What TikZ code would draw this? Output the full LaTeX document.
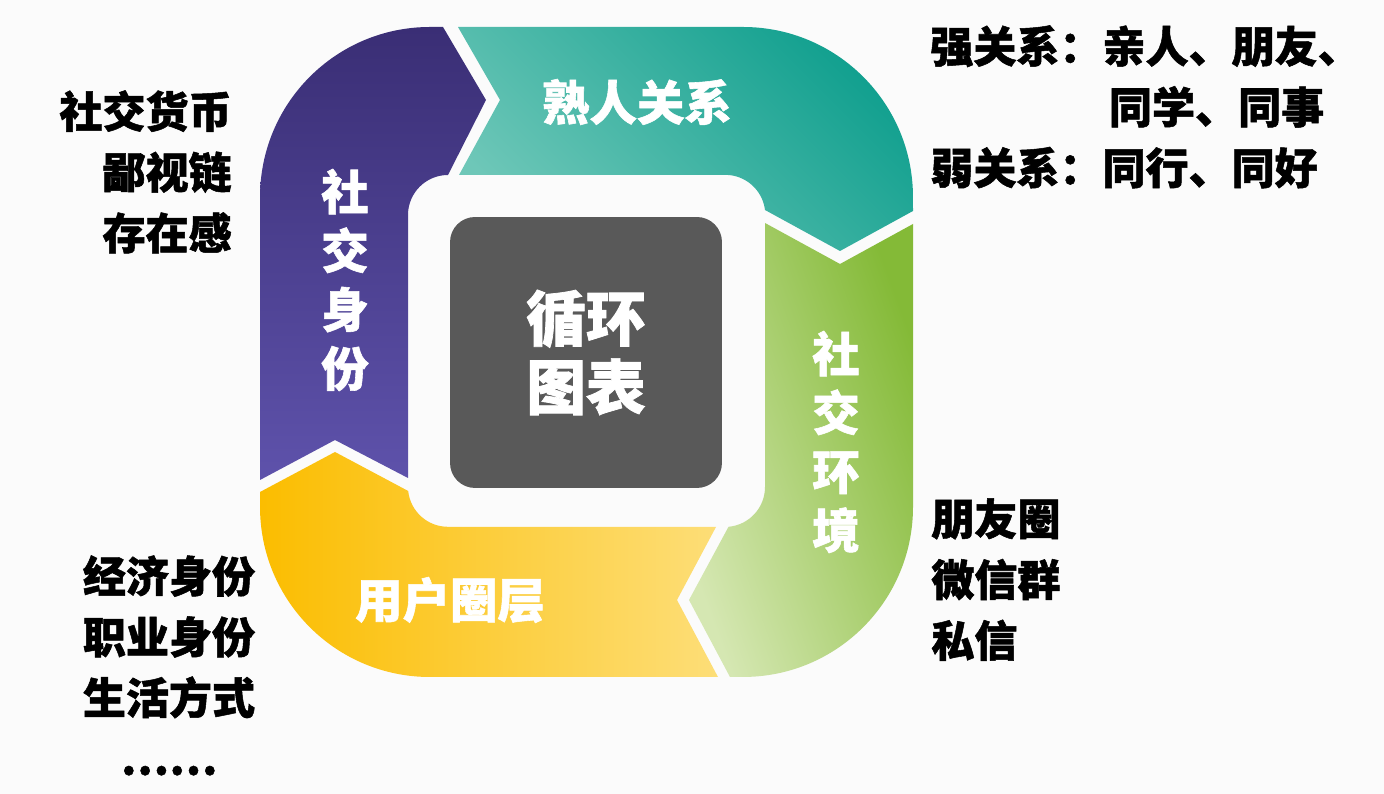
\documentclass[tikz,border=0pt]{standalone}
\usepackage{fontspec}
\setmainfont{Noto Sans CJK SC}[BoldFeatures={FakeBold=1.2}]
\usepackage{tikz}
\usepackage{xcolor}

\definecolor{paper}{HTML}{FBFBFB}
\definecolor{purpleD}{HTML}{3A2E75}
\definecolor{purpleL}{HTML}{5E52AB}
\definecolor{tealD}{HTML}{12A08F}
\definecolor{tealL}{HTML}{6EC7B8}
\definecolor{greenD}{HTML}{84BA37}
\definecolor{greenL}{HTML}{D5E7B2}
\definecolor{yellowD}{HTML}{FBBD00}
\definecolor{yellowL}{HTML}{FDDE78}
\definecolor{coregray}{HTML}{595959}

\begin{document}
\begin{tikzpicture}[x=0.02cm, y=0.02cm,
	ringlabel/.style={text=white, font=\fontsize{27}{33.5}\selectfont\bfseries, align=center, inner sep=0pt},
	sidetext/.style={text=black, font=\fontsize{24.5}{34.6}\selectfont\bfseries, inner sep=0pt}]
	\fill[paper] (0,0) rectangle (1384,794);
	% the four arrows of the ring
	\shade[top color=purpleD, bottom color=purpleL] (443,767) -- (430,767) arc[start angle=90, end angle=180, radius=3.4cm] -- (260,314) -- (335,354) -- (408,316) -- (408,579) arc[start angle=180, end angle=90, radius=0.8cm] -- (486,694) -- cycle;
	\shade[top color=tealL, bottom color=tealD, shading angle=135] (458,767) -- (743,767) arc[start angle=90, end angle=0, radius=3.4cm] -- (913,583) -- (840,543) -- (765,584) arc[start angle=7, end angle=90, radius=0.8cm] -- (459,619) -- (500,694) -- cycle;
	\shade[top color=greenL, bottom color=greenD, shading angle=110] (765,571) -- (840,530) -- (913,570) -- (913,287) arc[start angle=0, end angle=-90, radius=3.4cm] -- (730,117) -- (689,194) -- (728.5,267.2) arc[start angle=-85, end angle=0, radius=0.8cm] -- cycle;
	\shade[top color=yellowD, bottom color=yellowL, shading angle=90] (260,302) -- (335,342) -- (408.2,303) arc[start angle=186, end angle=270, radius=0.8cm] -- (716,267) -- (677,194) -- (718,117) -- (430,117) arc[start angle=270, end angle=180, radius=3.4cm] -- cycle;
	% centre block
	\node[fill=coregray, rounded corners=0.5cm, minimum width=5.44cm, minimum height=5.42cm, text=white, font=\fontsize{34}{39}\selectfont\bfseries, align=center, inner sep=0pt] (core) at (586,441.5) {循环\\图表};
	% labels on the ring
	\node[ringlabel] (acquaint) at (637,692) {熟人关系};
	\node[ringlabel] (identity) at (345,514) {社\\交\\身\\份};
	\node[ringlabel] (environ) at (836,352) {社\\交\\环\\境};
	\node[ringlabel] (usercircle) at (450,194) {用户圈层};
	% notes round the ring
	\node[sidetext, anchor=north west, align=left] (ties) at (930,769) {强关系：亲人、朋友、\\\hspace*{4.15em}同学、同事\\弱关系：同行、同好};
	\node[sidetext, anchor=north east, align=right] (currency) at (232,704) {社交货币\\鄙视链\\存在感};
	\node[sidetext, anchor=north, align=center] (roles) at (169,239) {经济身份\\职业身份\\生活方式\\……};
	\node[sidetext, anchor=north west, align=left] (channels) at (931,296) {朋友圈\\微信群\\私信};
\end{tikzpicture}
\end{document}
